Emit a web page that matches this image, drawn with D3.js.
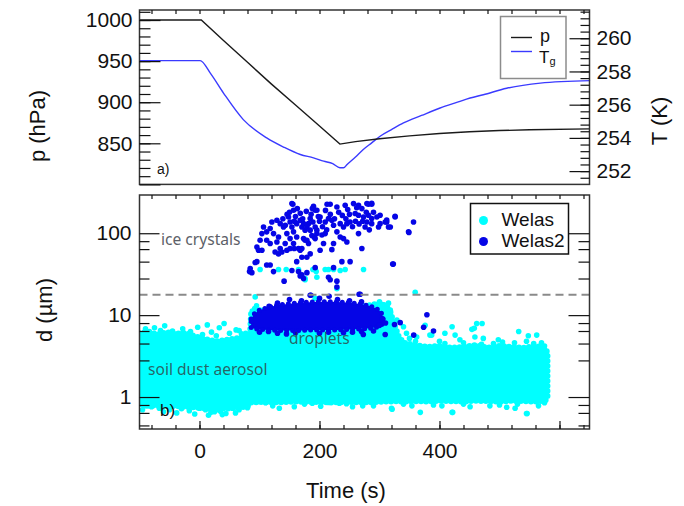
<!DOCTYPE html>
<html>
<head>
<meta charset="utf-8">
<script src="https://cdn.jsdelivr.net/npm/d3@7"></script>
<style>
body { margin: 0; background: #fff; }
svg { font-family: "Liberation Sans", Arial, sans-serif; }
</style>
</head>
<body>
<svg width="684" height="506"></svg>
<script>
// panel a) pressure and gas temperature
var pTime  = [-100, 0, 3, 40, 80, 120, 160, 200, 234, 260, 300, 350, 400, 450, 500, 550, 650];
var pValue = [1000, 1000, 1000, 975, 948.5, 922, 896.5, 871, 849, 852, 855.5, 859, 862, 864, 865.5, 866.5, 867.5];

var tgTime  = [-100, 1, 18, 40, 73, 112, 140, 168, 190, 207, 222, 234, 240, 246, 260, 273, 287, 301, 320, 340, 370, 401, 430, 451, 473, 512, 568, 651];
var tgValue = [258.65, 258.65, 257.9, 256.7, 255.1, 254.0, 253.45, 253.0, 252.8, 252.6, 252.45, 252.2, 252.2, 252.4, 252.85, 253.3, 253.7, 254.1, 254.5, 254.9, 255.35, 255.8, 256.15, 256.4, 256.6, 256.99, 257.3, 257.45];

// panel b) Welas dense cloud (lower / upper edge of the cyan band)
var coreTime = [-100, -85, -70, -55, -40, -25, -10, 0, 15, 30, 45, 60, 75, 84, 86, 100, 130, 160, 190, 220, 250, 280, 300, 310, 318, 325, 332, 340, 360, 380, 400, 420, 440, 460, 480, 500, 520, 540, 560, 575, 580];
var coreHi = [6.0, 6.3, 5.8, 6.2, 5.9, 6.1, 5.6, 5.3, 5.0, 4.8, 5.0, 5.2, 5.4, 5.6, 10.5, 11.5, 12, 12, 12, 12, 12, 13, 14, 13, 11, 7.5, 5.5, 4.6, 4.3, 4.1, 4.2, 4.0, 4.1, 4.3, 4.0, 4.2, 4.1, 4.0, 4.2, 4.0, 3.5];
var coreLo = [0.80, 0.78, 0.79, 0.77, 0.78, 0.76, 0.75, 0.74, 0.73, 0.73, 0.72, 0.74, 0.76, 0.80, 0.86, 0.87, 0.86, 0.88, 0.87, 0.86, 0.87, 0.86, 0.87, 0.88, 0.88, 0.89, 0.88, 0.88, 0.89, 0.88, 0.9, 0.89, 0.88, 0.9, 0.89, 0.88, 0.9, 0.89, 0.88, 0.9, 0.95];

// Welas2 droplet band
var dropTime = [86, 92, 100, 115, 130, 150, 170, 190, 210, 230, 250, 270, 285, 295, 302, 306];
var dropHi = [9.0, 10.5, 11.5, 12.5, 13.2, 13.8, 14.2, 14.5, 14.6, 14.5, 14.2, 13.6, 12.8, 12.0, 11.0, 9.5];
var dropLo = [7.0, 6.8, 6.7, 6.6, 6.5, 6.5, 6.5, 6.6, 6.6, 6.6, 6.7, 6.8, 6.9, 7.1, 7.5, 8.0];

// single Welas points outside the dense band [time s, d um]
var welasPts = [
  [101,36],[131.7,36],[144.5,36],[165,36],[189,36],[194.5,34],[176,27],[92.8,16.7],[192.8,36],[209.5,36],
  [215,36],[223.4,36],[234.5,35],[242.8,36],[273.4,36],[195.6,29],[176,28],[229,21],[359.5,19],[192.8,16],
  [-75,7.0],[-58,7.4],[-28,6.8],[-3,7.1],[13,7.6],[33,7.0],[41,7.9],[61,6.6],[66,6.5],[77,6.0],
  [-90,6.8],[-45,6.4],[20,6.2],[50,6.0],[-65,6.5],[-15,6.3],[5,5.8],[28,5.6],[70,5.9],
  [318,11.5],[329,8.7],[340,7.2],[362,5.4],[376,7.5],[387,5.7],[409,6.0],[421,7.2],[426,5.7],[454,6.7],
  [462,7.9],[471,7.9],[459,5.4],[473,5.2],[498,5.0],[532,6.3],[548,5.6],[562,5.7],[515,3.95],[409,4.5],
  [434,5.0],[490,4.5],[557,4.5],[384,5.7],[458,6.9],[350,5.2],[345,6.0],[400,4.8],[440,4.6],[470,4.4],
  [505,4.7],[525,4.6],[545,4.8],[570,4.6],[575,4.2],[360,4.8],
  [88,11.2],[92,12],[300,14.5],[305,13.5],[312,12.5],[315,14],[95,13],
  [-89,0.78],[-67,0.73],[-45,0.78],[-17,0.68],[0,0.73],[19,0.65],[27,0.69],[44,0.63],[55,0.73],[66,0.70],
  [72,0.78],[99.5,0.88],[122,0.78],[133,0.73],[158,0.76],[188,0.84],[202,0.77],[233,0.84],[255,0.76],[272,0.78],
  [290,0.78],[320,0.73],[354,0.78],[368,0.65],[404,0.78],[421,0.65],[451,0.76],[484,0.78],[512,0.75],[526,0.73],
  [546,0.63],[565,0.78],[321,0.71],[422,0.65],[545,0.63],[-80,0.76],[-30,0.72],[10,0.7],[35,0.67],
  [80,0.74],[110,0.85],[175,0.82],[215,0.86],[245,0.83],[340,0.82],[390,0.8],[440,0.82],[500,0.8],[530,0.82],[575,0.85],
  [-95,0.7],[-60,0.66],[-38,0.64],[-8,0.62],[15,0.6],[38,0.61],[60,0.64],[-50,0.7],[25,0.66]
];

// Welas2 points: ice crystals and stragglers
var welas2Pts = [
  [155.6,226],[156.7,191],[148.4,158],[151,137],[154,119],[156.7,104],[162,131],[167.8,144],[170.6,119],[176,109],
  [181.7,131],[184.5,151],[189,137],[192.8,119],[195.6,191],[195.6,99],[191,90],[173.4,86],[162,90],[151,86],
  [145.6,99],[140,119],[134.5,131],[129,144],[120.6,137],[117.8,114],[112,104],[106.7,119],[104,99],[123.4,99],
  [131.7,90],[129,78],[134.5,65],[126,59],[131.7,56],[137.3,59],[145.6,62],[151,65],[142.8,75],[117.8,75],
  [112,82],[101,82],[95.6,68],[98.4,62],[104,62],[165,65],[167.8,62],[176,82],[181.7,75],[170.6,51],
  [178.9,51],[184.5,56],[162,45],[165,34],[170.6,31],[173.4,28],[141,26],[123.4,34],[117.8,41],[112,41],
  [95.6,45],[92.8,44],[84.5,37],[83.4,34],[87.3,33],[154,35],[156.7,75],[157.8,65],
  [190,213],[192.8,191],[217.8,226],[229,209],[242.8,219],[256.7,230],[265,219],[270.6,200],[281.7,226],[287,226],
  [259.5,174],[265,166],[273.4,158],[281.7,166],[287,151],[295.6,158],[301,131],[298.4,119],[287,131],[278.9,137],
  [276,119],[312,137],[315,119],[326,158],[356.7,137],[348.4,104],[201,158],[209.5,137],[215,151],[220.6,144],
  [223.4,125],[234.5,131],[240,119],[245.6,131],[251,137],[229,104],[234.5,90],[240,86],[245.6,78],[223.4,75],
  [206.7,75],[201,62],[220.6,63],[265,99],[270.6,65],[173.4,131],[179,119],[184.5,109],[187.3,94],[192.8,86],
  [179,82],[170.6,65],[195.6,109],[204,95],[209.5,99],[237.3,45],[251,45],[323,42],[223.4,38],[192.8,38],
  [179,33],[167.8,30],[215,29],[217.8,27],[229,26],[229,22],
  [154,230],[212.6,226],[279,230],[287,232],[301,166],[309.5,137],[312,145],[318,119],[326,161],[349,102],[322,42],
  [146,170],[150,180],[160,160],[163,200],[168,175],[172,150],[178,185],[186,170],[198,160],[200,140],
  [205,120],[212,110],[218,170],[225,150],[232,180],[238,165],[244,150],[250,170],[255,120],[260,140],
  [266,130],[272,140],[278,180],[283,110],[290,180],[139,150],[143,125],[158,140],[188,200],[210,190],[247,195],[262,205],
  [184.5,17.5],[267.8,18],[185.6,17.5],[216,17],[266,18],[116,12.8],[379,10.1],[373.5,7.1],[390,6.4],[357,5.7],
  [334.5,8.1],[325,7.7],[309.5,5.8],[273,5.8],
  [130,14],[150,15.5],[170,15],[200,16],[230,15.5],[250,15],[270,14.5],[100,6.2],[130,6.0],[160,6.1],
  [200,6.0],[240,6.1],[270,6.3],[290,6.4],[115,6.3],[145,5.9],[215,6.2],[255,6.2],[300,7.5],[305,9.0],[310,8.0]
];

var iceLimit = 17.7; // dashed line

var pTicks = [800, 850, 900, 950, 1000];
var tTicks = [252, 254, 256, 258, 260];
var timeTicks = [0, 200, 400, 600];
var dTicks = [1, 10, 100];
var dMinor = [0.45, 0.64, 0.8, 2.8, 4.5, 6.4, 8, 28, 45, 64, 80];

window.onload = main;

function main() {
    var svg = d3.select("svg");
    var cyan = "#00ffff", blue = "#0505e6";

    var x = d3.scaleLinear().domain([-100, 650]).range([139.5, 589.5]);
    var yP = d3.scaleLinear().domain([800, 1012.2]).range([184.4, 10]);
    var yT = d3.scaleLinear().domain([251.2, 261.7]).range([184.4, 10]);
    var yD = d3.scaleLog().domain([0.407, 293]).range([429, 195]);

    // ---- panel a) ----
    var pLine = d3.line()
        .x(function (d, i) { return x(pTime[i]); }).y(function (d) { return yP(d); });
    var tLine = d3.line().curve(d3.curveMonotoneX)
        .x(function (d, i) { return x(tgTime[i]); }).y(function (d) { return yT(d); });

    svg.append("path").attr("d", tLine(tgValue))
        .attr("fill", "none").attr("stroke", "#3a3aff").attr("stroke-width", 1.4);
    svg.append("path").attr("d", pLine(pValue))
        .attr("fill", "none").attr("stroke", "#1a1a1a").attr("stroke-width", 1.4);

    // ---- panel b) ----
    svg.append("clipPath").attr("id", "clipB")
        .append("rect").attr("x", 139.5).attr("y", 195).attr("width", 450).attr("height", 234);
    var gB = svg.append("g").attr("clip-path", "url(#clipB)");

    var coreArea = d3.area()
        .x(function (d, i) { return x(coreTime[i]); })
        .y0(function (d, i) { return yD(coreLo[i]); })
        .y1(function (d) { return yD(d); });
    gB.append("path").attr("d", coreArea(coreHi))
        .attr("fill", cyan).attr("stroke", cyan).attr("stroke-width", 6)
        .attr("stroke-dasharray", "0,5").attr("stroke-linecap", "round");

    gB.selectAll("circle.welas").data(welasPts).enter().append("circle")
        .attr("class", "welas")
        .attr("cx", function (d) { return x(d[0]); })
        .attr("cy", function (d) { return yD(d[1]); })
        .attr("r", 2.8).attr("fill", cyan);

    var dropArea = d3.area()
        .x(function (d, i) { return x(dropTime[i]); })
        .y0(function (d, i) { return yD(dropLo[i]); })
        .y1(function (d) { return yD(d); });
    gB.append("path").attr("d", dropArea(dropHi))
        .attr("fill", blue).attr("stroke", blue).attr("stroke-width", 5)
        .attr("stroke-dasharray", "0,6").attr("stroke-linecap", "round");

    gB.selectAll("circle.welas2").data(welas2Pts).enter().append("circle")
        .attr("class", "welas2")
        .attr("cx", function (d) { return x(d[0]); })
        .attr("cy", function (d) { return yD(d[1]); })
        .attr("r", 2.8).attr("fill", blue);

    gB.append("line")
        .attr("x1", 139.5).attr("x2", 589.5)
        .attr("y1", yD(iceLimit)).attr("y2", yD(iceLimit))
        .attr("stroke", "#8a8a8a").attr("stroke-width", 2).attr("stroke-dasharray", "8,5");

    // annotations
    svg.append("text").attr("x", 161).attr("y", 245).text("ice crystals")
        .attr("font-family", "Noto Sans").attr("font-size", 15.6).attr("fill", "#5c5f68");
    svg.append("text").attr("x", 289).attr("y", 344).text("droplets")
        .attr("font-family", "Noto Sans").attr("font-size", 15.6).attr("fill", "#333").attr("fill-opacity", 0.75);
    svg.append("text").attr("x", 148).attr("y", 375).text("soil dust aerosol")
        .attr("font-family", "Noto Sans").attr("font-size", 15.6).attr("fill", "#333").attr("fill-opacity", 0.75);
    svg.append("text").attr("x", 157).attr("y", 174).text("a)").attr("font-size", 14).attr("fill", "#111");
    svg.append("text").attr("x", 160).attr("y", 416).text("b)").attr("font-size", 17).attr("fill", "#111");

    // frames
    svg.append("rect").attr("x", 139.5).attr("y", 10).attr("width", 450).attr("height", 174.4)
        .attr("fill", "none").attr("stroke", "#333").attr("stroke-width", 1.5);
    svg.append("rect").attr("x", 139.5).attr("y", 195).attr("width", 450).attr("height", 234)
        .attr("fill", "none").attr("stroke", "#333").attr("stroke-width", 1.5);

    // axes
    function addAxis(axis, tx, ty) {
        var g = svg.append("g")
            .attr("transform", "translate(" + tx + "," + ty + ")")
            .call(axis);
        g.select(".domain").remove();
        g.attr("font-size", 21).attr("font-family", "Liberation Sans, Arial, sans-serif");
        g.selectAll("text").attr("fill", "#111");
        g.selectAll("line").attr("stroke", "#111").attr("stroke-width", 1.2);
        return g;
    }

    var timeMinor = d3.range(-80, 641, 40);

    addAxis(d3.axisLeft(yP).tickValues(pTicks).tickFormat(function (d) { return d == 800 ? "" : d; })
        .tickSize(-21).tickPadding(7), 139.5, 0);
    addAxis(d3.axisLeft(yP).tickValues(d3.range(810, 1011, 10)).tickFormat("").tickSize(-11), 139.5, 0);
    addAxis(d3.axisRight(yT).tickValues(tTicks).tickSize(-20).tickPadding(7), 589.5, 0);
    addAxis(d3.axisRight(yT).tickValues(d3.range(251.6, 261.7, 0.4)).tickFormat("").tickSize(-9), 589.5, 0);
    addAxis(d3.axisTop(x).tickValues(timeMinor).tickFormat("").tickSize(-4), 0, 10);

    addAxis(d3.axisTop(x).tickValues(timeMinor).tickFormat("").tickSize(-4), 0, 195);
    addAxis(d3.axisBottom(x).tickValues(timeTicks).tickFormat(function (d) { return d == 600 ? "" : d; })
        .tickSize(-8).tickPadding(14), 0, 429);
    addAxis(d3.axisBottom(x).tickValues(timeMinor).tickFormat("").tickSize(-4), 0, 429);
    addAxis(d3.axisLeft(yD).tickValues(dTicks).tickFormat(d3.format("d")).tickSize(-20).tickPadding(8), 139.5, 0);
    addAxis(d3.axisLeft(yD).tickValues(dMinor).tickFormat("").tickSize(-10), 139.5, 0);
    addAxis(d3.axisRight(yD).tickValues(dTicks).tickFormat("").tickSize(-21), 589.5, 0);
    addAxis(d3.axisRight(yD).tickValues(dMinor).tickFormat("").tickSize(-11), 589.5, 0);

    // axis titles
    svg.append("text").attr("transform", "translate(45,126) rotate(-90)")
        .attr("text-anchor", "middle").attr("font-size", 22).attr("fill", "#111").text("p (hPa)");
    svg.append("text").attr("transform", "translate(667,121) rotate(-90)")
        .attr("text-anchor", "middle").attr("font-size", 22).attr("fill", "#111").text("T (K)");
    svg.append("text").attr("transform", "translate(52,310) rotate(-90)")
        .attr("text-anchor", "middle").attr("font-size", 22).attr("fill", "#111").text("d (µm)");
    svg.append("text").attr("x", 346).attr("y", 498)
        .attr("text-anchor", "middle").attr("font-size", 22).attr("fill", "#111").text("Time (s)");

    // legend a)
    var la = svg.append("g");
    la.append("rect").attr("x", 500.5).attr("y", 16.5).attr("width", 65.5).attr("height", 62)
        .attr("fill", "#fff").attr("stroke", "#8c8c8c").attr("stroke-width", 1.5);
    la.append("line").attr("x1", 511).attr("x2", 532).attr("y1", 37.5).attr("y2", 37.5)
        .attr("stroke", "#1a1a1a").attr("stroke-width", 1.4);
    la.append("line").attr("x1", 511).attr("x2", 532).attr("y1", 51.5).attr("y2", 51.5)
        .attr("stroke", "#3a3aff").attr("stroke-width", 1.4);
    la.append("text").attr("x", 540).attr("y", 42).attr("font-size", 18).attr("fill", "#111").text("p");
    var tg = la.append("text").attr("x", 539).attr("y", 62.5).attr("font-size", 17).attr("fill", "#111");
    tg.append("tspan").text("T");
    tg.append("tspan").attr("font-size", 11).attr("dy", 2).text("g");

    // legend b)
    var lb = svg.append("g");
    lb.append("rect").attr("x", 470.5).attr("y", 203.5).attr("width", 98).attr("height", 50.5)
        .attr("fill", "#fff").attr("stroke", "#111").attr("stroke-width", 1.5);
    lb.append("circle").attr("cx", 483.5).attr("cy", 220.5).attr("r", 4.5).attr("fill", cyan);
    lb.append("circle").attr("cx", 483.5).attr("cy", 241.5).attr("r", 4.5).attr("fill", blue);
    lb.append("text").attr("x", 501.5).attr("y", 226).attr("font-size", 19).attr("fill", "#111").text("Welas");
    lb.append("text").attr("x", 501.5).attr("y", 247).attr("font-size", 19).attr("fill", "#111").text("Welas2");
}
</script>
</body>
</html>
